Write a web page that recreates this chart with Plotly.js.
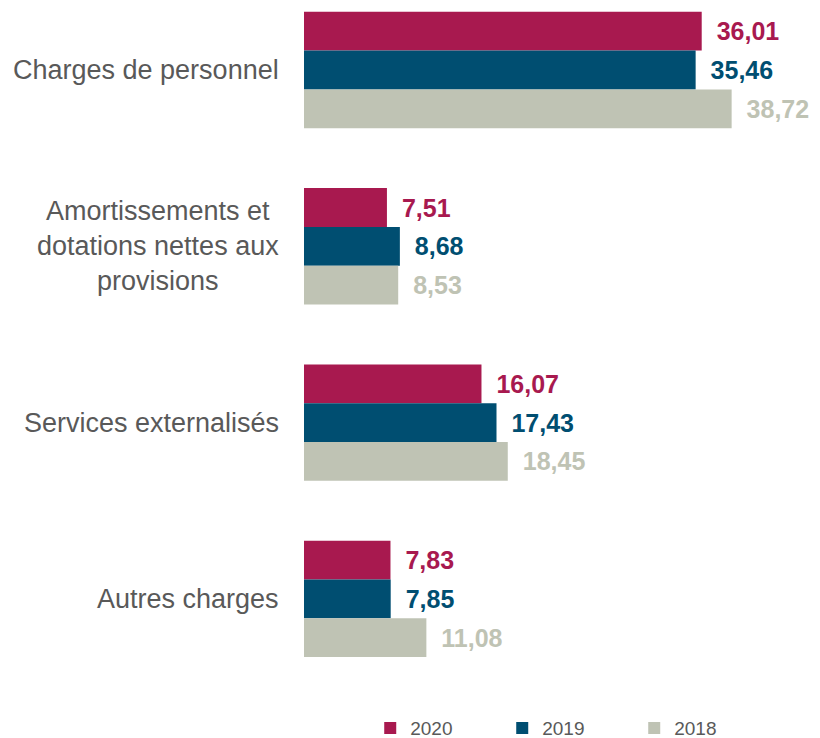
<!DOCTYPE html>
<html>
<head>
<meta charset="utf-8">
<script src="https://cdn.plot.ly/plotly-3.0.1.min.js"></script>
<style>html,body{margin:0;padding:0;background:#fff;}#chart{width:820px;height:738px;}</style>
</head>
<body>
<div id="chart"></div>
<script>
const categories = ["Charges de personnel", "Amortissements et dotations nettes aux provisions", "Services externalisés", "Autres charges"];
const categoryLabels = ["Charges de personnel", "Amortissements et<br>dotations nettes aux<br>provisions", "Services externalisés", "Autres charges"];
const seriesNames = ["2020", "2019", "2018"];
const values2020 = [36.01, 7.51, 16.07, 7.83];
const values2019 = [35.46, 8.68, 17.43, 7.85];
const values2018 = [38.72, 8.53, 18.45, 11.08];
const seriesValues = [values2020, values2019, values2018];
const colors = ["#A8194F", "#004E71", "#BFC3B4"];

const font = "Liberation Sans, Arial, sans-serif";

const traces = seriesNames.map((name, i) => ({
  type: "bar",
  orientation: "h",
  name: name,
  x: seriesValues[i],
  y: categories,
  marker: {color: colors[i], line: {width: 0}},
  texttemplate: "\u00a0\u2009%{x:.2f}",
  textposition: "outside",
  cliponaxis: false,
  textfont: {family: font, size: 25, color: colors[i], weight: "bold"},
  hoverinfo: "skip"
}));

const annotations = categories.map((c, i) => ({
  xref: "paper", yref: "y",
  x: -0.0472, y: c,
  xanchor: "right", yanchor: "middle",
  align: "center",
  text: categoryLabels[i],
  showarrow: false,
  font: {family: font, size: 27, color: "#595959"}
}));

const layout = {
  width: 820, height: 738,
  margin: {l: 303.5, r: 18.5, t: 0, b: 58, autoexpand: false},
  paper_bgcolor: "#fff", plot_bgcolor: "#fff",
  barmode: "group",
  bargap: 0.34,
  bargroupgap: 0,
  separators: ", ",
  showlegend: true,
  legend: {
    orientation: "h",
    xref: "container", yref: "container",
    x: 0.4515, xanchor: "left",
    y: 0.0135, yanchor: "middle",
    font: {family: font, size: 19, color: "#595959"},
    entrywidth: 87, entrywidthmode: "pixels",
    traceorder: "normal"
  },
  xaxis: {range: [0, 45], visible: false, fixedrange: true},
  yaxis: {
    type: "category",
    range: [3.46, -0.397],
    showticklabels: false, showgrid: false, zeroline: false, showline: false, ticks: ""
  },
  annotations: annotations,
  font: {family: font}
};

Plotly.newPlot("chart", traces, layout, {displayModeBar: false, staticPlot: true});
</script>
</body>
</html>
